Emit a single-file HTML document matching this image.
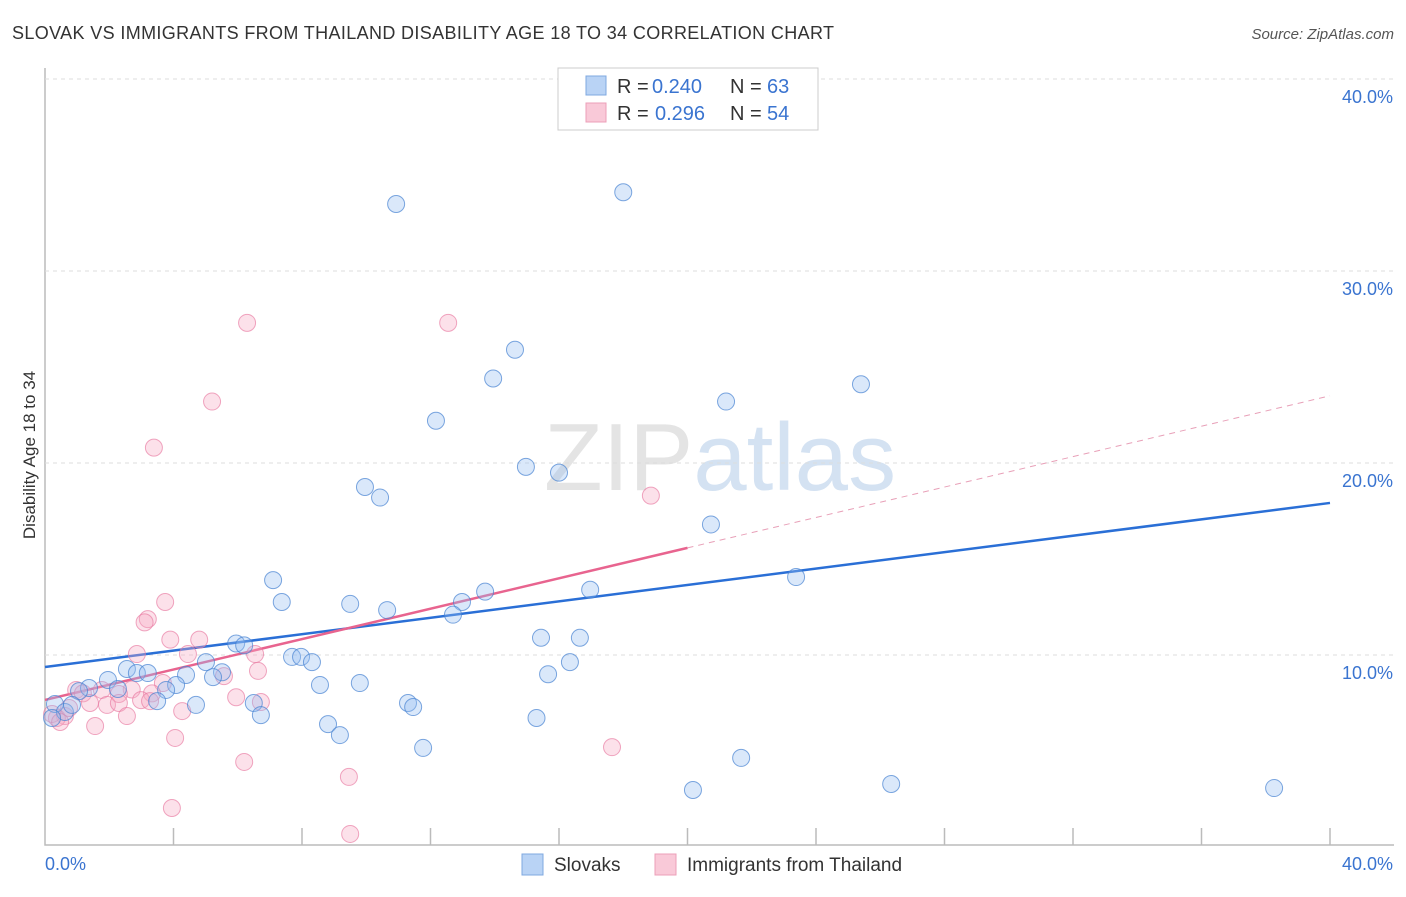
<!DOCTYPE html>
<html><head><meta charset="utf-8"><style>
body{margin:0;background:#fff;font-family:"Liberation Sans",sans-serif}
svg text{font-family:"Liberation Sans",sans-serif}
</style></head><body>
<svg id="c" width="1406" height="892">
<text x="12" y="39" font-size="18" fill="#333" textLength="822">SLOVAK VS IMMIGRANTS FROM THAILAND DISABILITY AGE 18 TO 34 CORRELATION CHART</text>
<text x="1394" y="39" font-size="15" fill="#555" font-style="italic" text-anchor="end">Source: ZipAtlas.com</text>
<text x="35" y="455" font-size="17" fill="#333" text-anchor="middle" transform="rotate(-90 35 455)">Disability Age 18 to 34</text>
<text x="720" y="490" font-size="96" fill="#e4e4e4" text-anchor="middle" font-family="Liberation Serif">ZIP<tspan fill="#d4e2f2" font-family="Liberation Sans">atlas</tspan></text>
<g id="grid"></g><g id="lines"></g><g id="pts"></g>
<g>
<rect x="558" y="68" width="260" height="62" fill="#fff" stroke="#ccc"/>
<rect x="586" y="76" width="20" height="19" fill="#b9d3f5" stroke="#7fa8e0"/>
<rect x="586" y="103" width="20" height="19" fill="#f9c9d8" stroke="#ec9fb8"/>
<text x="617" y="93" font-size="20" fill="#333">R =</text>
<text x="652" y="93" font-size="20" fill="#3a74d0">0.240</text>
<text x="730" y="93" font-size="20" fill="#333">N =</text>
<text x="767" y="93" font-size="20" fill="#3a74d0">63</text>
<text x="617" y="120" font-size="20" fill="#333">R =</text>
<text x="655" y="120" font-size="20" fill="#3a74d0">0.296</text>
<text x="730" y="120" font-size="20" fill="#333">N =</text>
<text x="767" y="120" font-size="20" fill="#3a74d0">54</text>
</g>
<g>
<rect x="522" y="854" width="21" height="21" fill="#b9d3f5" stroke="#7fa8e0"/>
<text x="554" y="871" font-size="19" fill="#333">Slovaks</text>
<rect x="655" y="854" width="21" height="21" fill="#f9c9d8" stroke="#ec9fb8"/>
<text x="687" y="871" font-size="19" fill="#333">Immigrants from Thailand</text>
</g>
</svg>
<script>
const yTicks=[10,20,30,40];
const xTickLabels=["0.0%","40.0%"];
const blueX=[10.93,18.0,14.63,13.95,12.17,25.4,21.2,14.97,16.0,9.96,10.43,20.73,23.38,7.1,7.37,9.5,10.65,12.98,13.7,12.7,16.97,15.44,16.65,5.95,6.2,7.69,7.97,8.31,5.01,2.55,2.86,3.2,4.39,5.51,5.23,16.34,15.66,8.56,9.8,4.08,3.77,1.96,1.37,1.06,2.27,4.7,3.49,6.5,6.72,11.3,11.46,8.81,9.18,15.3,11.77,21.67,20.17,26.34,38.26,0.31,0.62,0.22,0.84];
const blueY=[33.49,34.1,25.9,24.4,22.2,24.1,23.2,19.8,19.5,18.75,18.2,16.8,14.06,13.9,12.76,12.66,12.34,12.76,13.3,12.1,13.4,10.9,10.9,10.6,10.5,9.9,9.9,9.63,9.63,9.27,9.06,9.06,8.96,9.1,8.85,9.63,9.0,8.44,8.54,8.44,8.18,8.7,8.28,8.12,8.23,7.4,7.6,7.5,6.87,7.5,7.29,6.4,5.83,6.72,5.16,4.64,2.97,3.28,3.07,7.45,7.03,6.72,7.4];
const pinkX=[6.29,12.55,5.2,3.39,18.86,3.74,3.2,3.1,3.9,4.8,2.86,4.45,6.54,6.63,5.57,3.67,5.95,6.72,4.27,3.33,2.7,2.3,1.77,0.97,1.18,1.4,1.93,2.3,2.99,2.55,1.56,0.62,0.37,0.22,0.47,4.05,6.2,9.46,17.65,3.95,9.5,0.75,3.27];
const pinkY=[27.3,27.3,23.2,20.8,18.3,12.76,11.87,11.7,10.8,10.8,10.05,10.05,10.05,9.17,8.9,8.54,7.8,7.55,7.08,8.0,8.2,7.97,8.18,8.18,8.0,7.5,7.4,7.5,7.65,6.82,6.3,6.82,6.72,6.93,6.51,5.68,4.43,3.65,5.2,2.03,0.68,7.24,7.6];
const blueFit=[9.375,17.92];
const pinkFit=[7.66,23.5];
const NS="http://www.w3.org/2000/svg";
const X=v=>45+v/40*1285, Y=v=>847-v*19.2;
function mk(t,a,p){const e=document.createElementNS(NS,t);for(const k in a)e.setAttribute(k,a[k]);p.appendChild(e);return e;}
const g=document.getElementById('grid');
const ax=mk('path',{d:'M45 68V845H1394',stroke:'#bbb',fill:'none','stroke-width':1.5},g);


yTicks.forEach(t=>{
 const l=mk('line',{x1:45,x2:1394,y1:Y(t),y2:Y(t),stroke:'#ddd','stroke-dasharray':'4 4'},g);
 
 
 const tx=mk('text',{x:1393,y:Y(t)+24,'font-size':18,fill:'#3a74d0','text-anchor':'end'},g);
 tx.textContent=t.toFixed(1)+'%';
 
 
});
for(let i=1;i<=10;i++){
 const t=mk('line',{x1:X(i*4),x2:X(i*4),y1:828,y2:845,stroke:'#bbb','stroke-width':1.5},g);
 
 
}
xTickLabels.forEach((s,i)=>{
 const t=mk('text',{x:i?1393:45,y:870,'font-size':18,fill:'#3a74d0','text-anchor':i?'end':'start'},g);
 t.textContent=s;
 
 
});
const P=document.getElementById('pts');
function pts(xs,ys,fill,stroke,name){xs.forEach((x,i)=>{
 const c=mk('circle',{cx:X(x),cy:Y(ys[i]),r:8.5,fill:fill,stroke:stroke,'stroke-width':1},P);
 
 
});}
pts(pinkX,pinkY,'rgba(246,170,195,0.35)','rgba(232,120,160,0.65)','point-thailand');
pts(blueX,blueY,'rgba(150,190,240,0.35)','rgba(70,130,210,0.7)','point-slovak');
const L=document.getElementById('lines');
const b=mk('line',{x1:X(0),y1:Y(blueFit[0]),x2:X(40),y2:Y(blueFit[1]),stroke:'#2a6fd6','stroke-width':2.5},L);


const pm=pinkFit[0]+(pinkFit[1]-pinkFit[0])/2;
const p1=mk('line',{x1:X(0),y1:Y(pinkFit[0]),x2:X(20),y2:Y(pm),stroke:'#e8648f','stroke-width':2.5},L);


const p2=mk('line',{x1:X(20),y1:Y(pm),x2:X(40),y2:Y(pinkFit[1]),stroke:'#e8a0b8','stroke-width':1,'stroke-dasharray':'6 5'},L);


</script>
</body></html>
